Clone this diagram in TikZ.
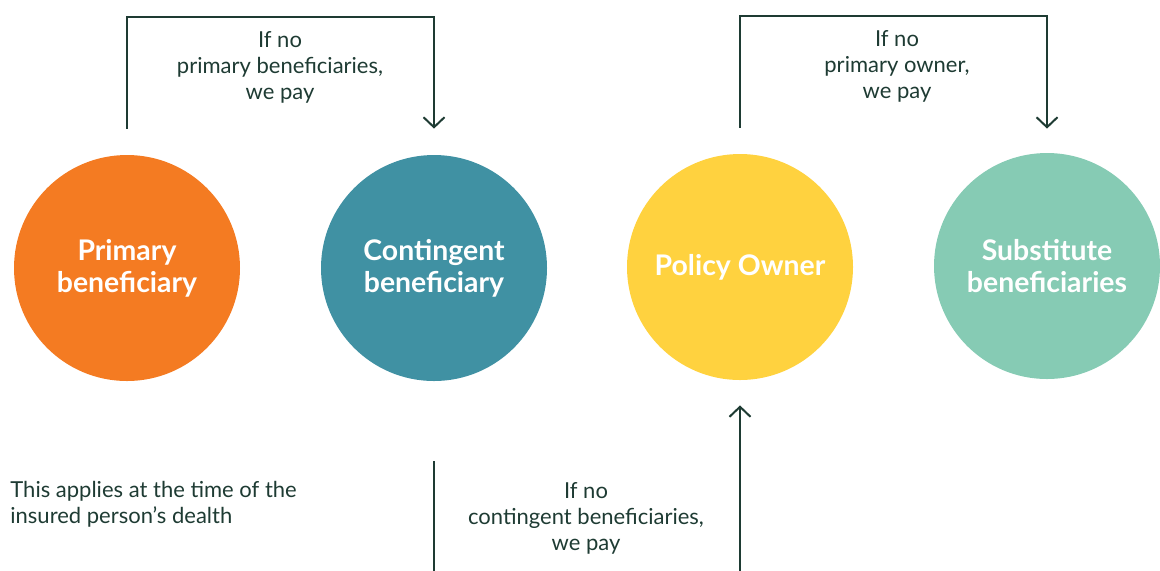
\documentclass[tikz,border=0pt]{standalone}
\usepackage{fontspec}
\setmainfont{Lato}
\usetikzlibrary{arrows.meta}
\definecolor{ink}{HTML}{1E3B33}
\definecolor{orng}{HTML}{F47B22}
\definecolor{tealc}{HTML}{4091A3}
\definecolor{sun}{HTML}{FFD23F}
\definecolor{mint}{HTML}{86CBB4}
\tikzset{
  party/.style={circle,minimum size=113pt,inner sep=0pt,text=white,
    font=\bfseries\fontsize{14.2}{16}\selectfont,align=center},
  flow/.style={draw=ink,line width=1pt,-{Straight Barb[length=5pt,width=10.5pt]}},
  link/.style={draw=ink,line width=1pt},
  note/.style={text=ink,font=\fontsize{11}{13}\selectfont,align=center}
}
\begin{document}
\begin{tikzpicture}[x=.5pt,y=-.5pt]
\useasboundingbox (0,0) rectangle (1160,570);
% the four parties
\node[party,fill=orng] (prim) at (127,268) {Primary\\beneficiary};
\node[party,fill=tealc] (cont) at (434,268) {Contingent\\beneficiary};
\node[party,fill=sun] (owner) at (740,267) {Policy Owner};
\node[party,fill=mint] (subst) at (1047,266) {Substitute\\beneficiaries};
% labels
\node[note] (lblprim) at (280,67) {If no\\primary beneficiaries,\\we pay};
\node[note] (lblowner) at (897,66) {If no\\primary owner,\\we pay};
\node[note] (lblcont) at (586,518) {If no\\contingent beneficiaries,\\we pay};
\node[note,align=left,anchor=west,inner sep=0pt] (death) at (10,504) {This applies at the time of the\\insured person’s dealth};
% connectors
\coordinate (pa) at ([yshift=13pt]prim.north);
\coordinate (pb) at ([yshift=13pt]cont.north);
\draw[flow] (pa) -- ++(0,-112) -| (pb);
\coordinate (oa) at ([yshift=13pt]owner.north);
\coordinate (sb) at ([yshift=12pt]subst.north);
\draw[flow] (oa) -- ++(0,-112) -| (sb);
\coordinate (ce) at (434,575);
\draw[link] ([yshift=-40pt]cont.south) -- (ce);
\coordinate (ob) at (740,575);
\draw[flow] (ob) -- ([yshift=-12.5pt]owner.south);
\end{tikzpicture}
\end{document}
